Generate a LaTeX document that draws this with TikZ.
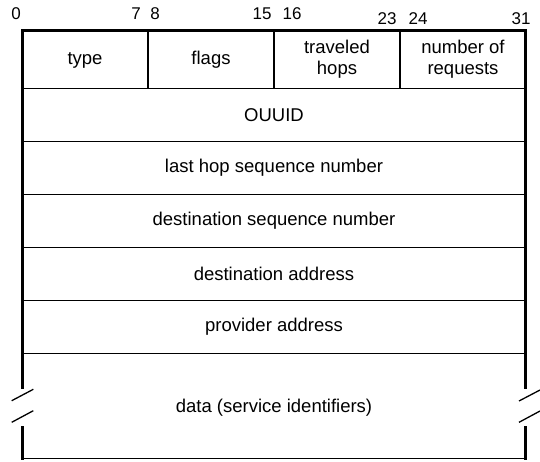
\documentclass[tikz,border=0pt]{standalone}
\usepackage{fontspec}
\setmainfont{Liberation Sans}
\begin{document}
\begin{tikzpicture}[x=1pt,y=-1pt,
  frame/.style={line width=3pt,line cap=butt},
  rule/.style={line width=1.3pt},
  field/.style={font=\fontsize{18.5}{21}\selectfont,align=center,inner sep=0pt},
  bitno/.style={font=\fontsize{17}{19}\selectfont,inner sep=0pt}]
\useasboundingbox (0,0) rectangle (540,461);

% outer frame with breaks in the data field
\draw[frame,line join=miter] (22.5,389) -- (22.5,30) -- (525.5,30) -- (525.5,389);
\draw[frame] (22.5,426) -- (22.5,460);
\draw[frame] (525.5,426) -- (525.5,460);
\draw[rule] (22.5,458.5) -- (525.5,458.5);

% break marks
\draw[rule] (11.7,400.7) -- (33.3,389.3);
\draw[rule] (11.7,422.3) -- (33.3,410.7);
\draw[rule] (519,401) -- (540,390);
\draw[rule] (519,422.3) -- (540,411);

% row separators
\foreach \yy in {88.3,141.3,194.3,247.3,300.3,353.3}
  \draw[rule] (22.5,\yy) -- (525.5,\yy);
% byte separators in the first word
\foreach \xx in {148,274,400}
  \draw[rule] (\xx,30) -- (\xx,88.3);

% bit numbers
\node[bitno] (b0)  at (16,14)  {0};
\node[bitno] (b7)  at (136,14) {7};
\node[bitno] (b8)  at (155,14) {8};
\node[bitno] (b15) at (262,14) {15};
\node[bitno] (b16) at (292,14) {16};
\node[bitno] (b23) at (387,19) {23};
\node[bitno] (b24) at (418,19) {24};
\node[bitno] (b31) at (521,19) {31};

% fields
\node[field] (type)  at (85,60)  {type};
\node[field] (flags) at (211,60) {flags};
\node[field] (hops)  at (337,59) {traveled\\hops};
\node[field] (nreq)  at (463,59) {number of\\requests};
\node[field] (ouuid) at (274,115) {OUUID};
\node[field] (lhsn)  at (274,168) {last hop sequence number};
\node[field] (dsn)   at (274,221) {destination sequence number};
\node[field] (daddr) at (274,274) {destination address};
\node[field] (paddr) at (274,327) {provider address};
\node[field] (data)  at (274,408) {data (service identifiers)};
\end{tikzpicture}
\end{document}
